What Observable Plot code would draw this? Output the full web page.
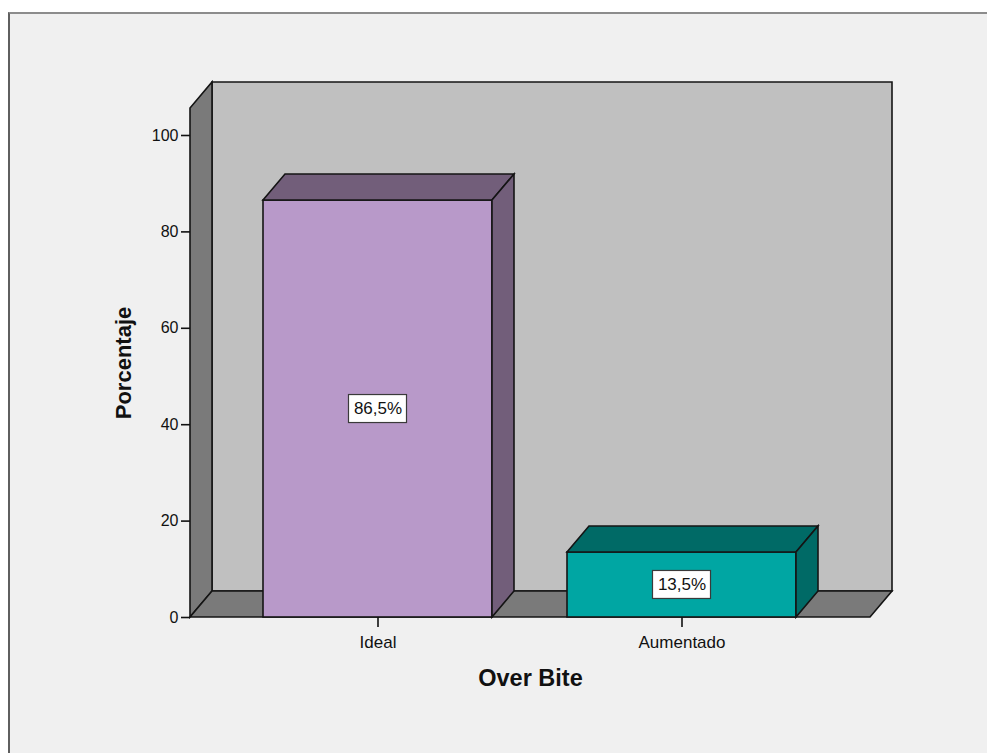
<!DOCTYPE html>
<html>
<head>
<meta charset="utf-8">
<script src="https://cdn.jsdelivr.net/npm/d3@7"></script>
<script src="https://cdn.jsdelivr.net/npm/@observablehq/plot@0.6"></script>
<style>
  html, body { margin: 0; padding: 0; background: #ffffff; }
  #panel {
    position: absolute; left: 8px; top: 12px; width: 990px; height: 760px;
    background: #f0f0f0; border-top: 2px solid #8c8c8c; border-left: 2px solid #5f5f5f;
  }
  #chart { position: absolute; left: 0; top: 0; }
</style>
</head>
<body>
<div id="panel"></div>
<div id="chart"></div>
<script>
// Over Bite distribution (percent of cases)
const categories = ["Ideal", "Aumentado"];
const percentages = [86.5, 13.5];
const valueLabels = ["86,5%", "13,5%"];
const yTicks = [0, 20, 40, 60, 80, 100];
const yDomain = [0, 105.6];
const xTitle = "Over Bite";
const yTitle = "Porcentaje";
const frontColors = ["#b899c9", "#00a6a3"];
const shadeColors = ["#725e7a", "#006a66"];

const rows = categories.map((category, i) => ({
  category,
  value: percentages[i],
  label: valueLabels[i],
  front: frontColors[i],
  shade: shadeColors[i]
}));

// pseudo-3D depth of the box and bars, in pixels
const DX = 22, DY = -26;
const EDGE = "#141414";

function polygon(g, pts, fill) {
  g.append("polygon")
    .attr("points", pts.map(p => p.join(",")).join(" "))
    .attr("fill", fill);
}

// back wall, left wall and floor of the chart box
function walls(index, scales, values, dims) {
  const x0 = dims.marginLeft, x1 = dims.width - dims.marginRight;
  const yb = scales.y(yDomain[0]), yt = scales.y(yDomain[1]);
  const g = d3.create("svg:g")
    .attr("stroke", EDGE).attr("stroke-width", 1.6).attr("stroke-linejoin", "miter");
  polygon(g, [[x0 + DX, yt + DY], [x1 + DX, yt + DY], [x1 + DX, yb + DY], [x0 + DX, yb + DY]], "#c0c0c0");
  polygon(g, [[x0, yb], [x0, yt], [x0 + DX, yt + DY], [x0 + DX, yb + DY]], "#7a7a7a");
  polygon(g, [[x0, yb], [x1, yb], [x1 + DX, yb + DY], [x0 + DX, yb + DY]], "#7a7a7a");
  return g.node();
}

// top and side faces of each bar
function barFaces(index, scales, values, dims) {
  const bw = scales.x.bandwidth ? scales.x.bandwidth() : 230;
  const g = d3.create("svg:g")
    .attr("stroke", EDGE).attr("stroke-width", 1.6).attr("stroke-linejoin", "miter");
  for (const r of rows) {
    const xa = scales.x(r.category), xb = xa + bw;
    const yv = scales.y(r.value), y0 = scales.y(0);
    polygon(g, [[xa, yv], [xa + DX, yv + DY], [xb + DX, yv + DY], [xb, yv]], r.shade);
    polygon(g, [[xb, yv], [xb + DX, yv + DY], [xb + DX, y0 + DY], [xb, y0]], r.shade);
  }
  return g.node();
}

// white boxes behind the value labels
function labelBoxes(index, scales, values, dims) {
  const bw = scales.x.bandwidth ? scales.x.bandwidth() : 230;
  const g = d3.create("svg:g").attr("fill", "#ffffff").attr("stroke", "#3a3a3a").attr("stroke-width", 1.2);
  for (const r of rows) {
    const cx = scales.x(r.category) + bw / 2;
    const cy = scales.y(r.value / 2);
    g.append("rect").attr("x", cx - 29).attr("y", cy - 14).attr("width", 58).attr("height", 28);
  }
  return g.node();
}

const chart = Plot.plot({
  width: 987,
  height: 753,
  marginLeft: 190,
  marginRight: 117,
  marginTop: 108,
  marginBottom: 136,
  x: {domain: categories, paddingInner: 0.246, paddingOuter: 0.238},
  y: {domain: yDomain},
  color: {type: "identity"},
  style: {
    background: "transparent",
    fontFamily: "'Liberation Sans', Arial, sans-serif",
    color: "#111111",
    overflow: "visible"
  },
  marks: [
    walls,
    Plot.barY(rows, {x: "category", y: "value", fill: "front", stroke: EDGE, strokeWidth: 1.6}),
    barFaces,
    labelBoxes,
    Plot.text(rows, {x: "category", y: d => d.value / 2, text: "label", fontSize: 17, fill: "#111111"}),
    Plot.axisY({ticks: yTicks, tickSize: 9, tickPadding: 3, fontSize: 16, strokeWidth: 1.6, label: null}),
    Plot.axisX({tickSize: 10, tickPadding: 8, fontSize: 17, strokeWidth: 1.6, label: null}),
    Plot.text([yTitle], {text: d => d, frameAnchor: "left", dx: -67, rotate: -90,
      fontSize: 22, fontWeight: "bold", textAnchor: "middle", lineAnchor: "middle", fill: "#111111"}),
    Plot.text([xTitle], {text: d => d, frameAnchor: "bottom", dy: 61,
      fontSize: 23.5, fontWeight: "bold", textAnchor: "middle", lineAnchor: "middle", fill: "#111111"})
  ]
});

document.getElementById("chart").appendChild(chart);
</script>
</body>
</html>
